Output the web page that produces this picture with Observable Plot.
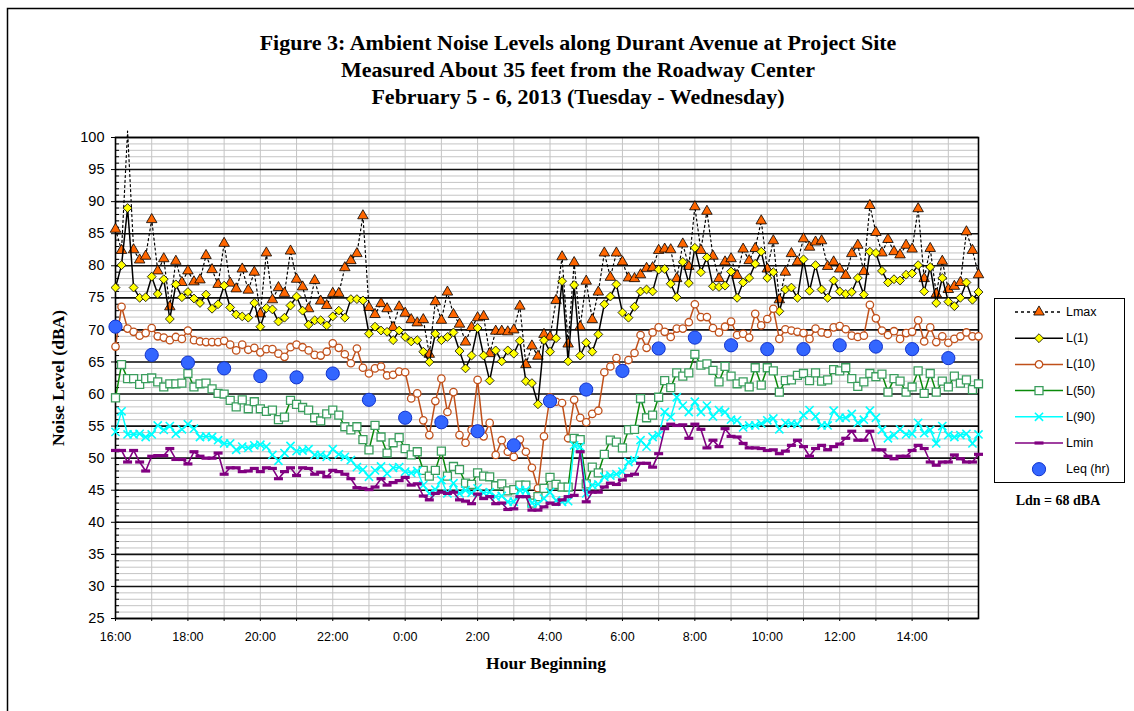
<!DOCTYPE html>
<html><head><meta charset="utf-8">
<script src="https://cdn.jsdelivr.net/npm/d3@7"></script>
<script src="https://cdn.jsdelivr.net/npm/@observablehq/plot@0.6"></script>
<style>
body{margin:0;background:#fff;}
#wrap{position:relative;width:1134px;height:711px;overflow:hidden;background:#fff;}
#wrap svg{position:absolute;left:0;top:0;}
</style>
</head><body>
<div id="wrap"></div>
<script>
// ---- data (10-minute intervals starting 16:00 Tue) ----
const titleLines = [
  "Figure 3: Ambient Noise Levels along Durant Avenue at Project Site",
  "Measured About 35 feet from the Roadway Center",
  "February 5 - 6, 2013 (Tuesday - Wednesday)"
];
const yTitle = "Noise Level (dBA)";
const xTitle = "Hour Beginning";
const ldnNote = "Ldn = 68 dBA";
const hourLabels = ["16:00","18:00","20:00","22:00","0:00","2:00","4:00","6:00","8:00","10:00","12:00","14:00"];
const seriesNames = ["Lmax","L(1)","L(10)","L(50)","L(90)","Lmin","Leq (hr)"];

const lmax = [85.7,82.4,101,82.5,80.9,81.5,87.2,79.2,81.1,73.6,80.7,77.4,79.2,77.5,77.8,81.6,79.4,77.1,83.5,77.3,76.4,79.5,76.2,79.0,72.5,82.0,74.7,76.6,75.7,82.3,77.9,76.7,73.3,77.7,74.5,73.8,
75.7,75.7,79.7,80.8,81.9,87.8,73.5,72.4,74.1,73.3,70.4,73.6,72.6,71.6,71.1,71.6,66.2,74.4,71.5,75.9,72.4,70.9,68.1,70.4,71.9,72.1,66.3,69.8,69.8,69.7,70.0,73.7,64.6,67.5,65.9,69.3,
68.9,74.6,81.4,67.8,80.5,70.5,77.6,71.6,75.9,82.0,78.2,82.0,80.6,78.1,78.0,78.6,79.6,79.7,82.4,82.6,82.5,78.0,83.4,79.9,89.2,82.4,88.5,81.5,78.0,80.6,81.1,78.5,82.6,80.8,82.7,87.0,
79.5,83.9,74.7,79.0,81.9,80.6,84.2,82.9,83.7,83.9,79.9,80.6,79.5,78.5,81.9,83.2,79.1,89.4,85.2,82.0,84.1,82.2,81.7,83.2,82.6,88.9,78.0,82.7,75.6,80.7,76.3,76.8,77.4,85.3,82.4,78.6];

const l1 = [76.6,80.1,89.0,76.6,75.0,75.1,78.3,75.6,77.9,71.7,77.1,75.1,75.9,74.9,74.2,75.5,73.3,74.0,76.9,73.5,72.4,72.1,71.9,74.2,70.5,73.4,73.2,71.3,71.9,73.8,75.2,73.0,70.8,71.5,71.5,70.7,
72.1,73.0,71.9,74.8,74.8,74.6,69.4,70.5,69.9,69.7,68.4,69.9,68.9,68.2,68.4,66.6,65.0,69.4,68.4,68.9,69.6,66.7,64.0,66.0,70.3,66.0,62.1,66.8,65.1,66.8,66.3,68.3,62.0,61.7,58.4,68.4,
66.6,68.7,77.6,65.1,77.0,66.0,68.0,66.6,69.3,74.0,75.2,77.1,72.7,71.9,73.6,76.0,76.3,76.0,79.4,79.5,77.2,75.1,80.6,77.3,82.8,79.0,81.3,76.8,76.7,76.9,79.1,75.0,77.4,78.1,80.3,82.2,
78.1,79.0,72.9,76.3,76.6,75.0,81.0,76.1,80.1,76.3,75.0,77.7,76.0,75.6,75.9,78.1,75.5,82.2,82.0,79.2,77.4,77.9,77.7,78.6,78.8,80.1,76.0,79.8,74.2,78.1,74.4,73.7,75.0,77.4,74.7,75.9];

const l10 = [67.4,73.6,70.2,69.7,69.1,69.5,70.3,69.0,68.8,68.4,68.9,68.6,69.9,68.4,68.2,68.1,68.1,68.1,68.3,67.7,66.8,67.7,66.9,67.2,66.5,67.0,67.0,66.3,65.8,67.3,67.7,67.3,66.8,66.1,66.0,66.6,
67.9,67.2,66.2,64.8,67.1,64.1,63.2,64.0,64.3,62.9,63.0,63.5,63.4,59.3,60.1,55.9,53.6,58.9,62.4,57.2,60.3,53.6,52.4,54.4,62.2,53.4,55.5,50.5,52.8,51.0,50.2,52.9,51.0,48.5,45.3,53.4,
59.5,58.8,58.6,53.1,59.1,56.3,55.6,56.9,57.4,63.4,64.3,65.6,64.0,65.3,66.4,69.2,67.2,69.6,70.4,69.7,68.9,70.2,70.2,71.2,74.0,72.0,72.0,70.3,69.6,70.5,71.3,69.2,69.4,68.8,72.5,70.7,
71.7,73.3,68.6,70.1,69.9,69.7,69.5,68.6,70.2,69.6,69.4,70.4,70.6,70.1,69.1,68.9,69.1,73.9,71.8,69.9,69.2,69.8,68.6,69.5,69.7,71.5,68.2,70.4,68.1,69.0,68.0,68.6,69.0,69.6,69.0,69.0];

const l50 = [59.4,64.6,62.4,62.4,61.5,62.4,62.5,61.9,61.1,61.6,61.6,61.7,63.2,61.1,61.6,61.7,60.8,60.1,60.0,59.0,58.0,59.1,57.7,58.8,57.7,57.3,57.5,56.0,56.4,59.0,58.4,57.9,57.5,56.3,55.8,56.9,
57.5,56.7,54.9,54.4,54.9,52.9,51.3,55.1,53.3,50.8,52.4,53.2,51.5,50.5,51.0,48.1,47.2,48.1,51.1,47.2,48.7,48.2,46.1,45.9,47.7,47.2,47.1,45.7,46.0,44.9,45.1,45.8,45.8,43.0,44.0,45.3,
47.0,45.9,45.5,45.5,53.1,52.9,46.0,48.6,47.7,50.6,52.8,52.5,51.6,54.4,54.5,59.3,56.3,56.7,59.5,62.1,61.0,63.3,62.8,63.3,66.2,64.5,64.7,63.7,61.9,64.3,62.8,61.6,61.9,61.1,64.1,61.4,
64.1,63.6,60.3,62.1,62.2,62.9,63.2,62.1,63.3,62.0,62.2,63.8,63.6,64.1,62.4,61.2,61.9,63.2,62.7,63.1,60.3,62.4,62.0,60.3,61.1,63.6,60.1,63.2,60.3,62.0,61.1,62.8,61.7,62.2,60.7,61.6];

const l90 = [54.1,57.3,53.7,53.7,53.8,53.3,53.7,55.1,54.4,55.0,53.8,54.5,55.3,54.6,53.3,53.4,53.3,52.8,52.3,52.3,51.3,51.8,51.6,52.0,52.1,51.8,50.5,49.6,50.8,51.9,51.1,51.2,51.4,50.5,50.5,50.2,
51.4,50.6,50.2,49.7,48.6,48.2,47.1,48.1,48.7,47.6,48.5,48.6,47.9,47.7,48.0,45.8,44.5,45.1,46.6,44.5,46.1,44.5,45.0,44.6,45.3,44.6,44.7,44.0,44.1,43.2,43.2,45.0,45.0,43.0,42.9,43.7,
44.7,43.4,43.2,43.3,52.0,51.8,44.5,45.8,45.9,47.1,47.3,47.5,47.9,49.4,49.7,52.8,51.8,53.3,53.6,57.2,56.4,59.5,58.2,57.2,58.8,57.2,58.2,56.5,57.5,57.2,56.0,55.9,54.8,55.1,55.1,55.4,
55.9,56.2,54.5,55.5,55.4,55.3,56.7,57.5,56.5,55.1,55.1,57.4,56.3,56.3,56.9,55.5,56.0,57.4,56.3,54.4,53.1,53.6,54.5,53.7,53.8,55.5,53.9,54.4,52.3,55.0,53.6,53.3,53.6,53.8,52.3,53.7];

const lmin = [51.2,51.2,49.4,51.2,49.4,48.0,50.3,50.4,50.4,51.5,49.8,49.8,49.1,51.0,50.3,50.0,50.0,50.8,47.5,48.5,48.5,47.9,48.0,48.4,47.9,48.5,48.4,46.8,47.9,48.5,47.3,48.5,48.4,47.5,47.8,47.1,
48.1,47.9,47.5,46.8,45.4,45.3,45.1,45.5,46.8,45.8,46.2,46.5,47.0,45.8,46.0,44.1,43.5,44.5,44.7,44.5,44.7,43.5,43.3,42.9,44.4,43.7,44.0,42.9,43.0,42.0,42.1,44.0,44.0,41.9,41.9,42.4,
43.0,42.8,43.5,44.0,44.2,51.0,43.2,44.7,44.7,45.5,46.1,45.9,46.6,47.3,47.5,49.2,49.2,48.6,50.7,54.6,55.3,55.1,55.2,53.1,55.3,54.5,51.6,52.8,51.8,54.6,53.4,53.3,52.3,51.6,51.6,51.5,
51.2,51.3,50.7,51.1,52.0,52.8,51.8,50.3,51.5,52.0,51.3,51.8,52.2,53.1,54.2,52.8,52.8,54.2,51.3,51.3,50.3,49.9,50.3,50.3,51.2,52.0,51.5,49.4,48.9,49.4,49.4,50.5,49.9,49.4,49.4,50.6];

// hourly Leq, 16:00 .. 15:00
const leq = [70.5,66.1,64.9,64.0,62.8,62.6,63.2,59.1,56.3,55.6,54.2,52.0,58.9,60.7,63.6,67.1,68.8,67.6,67.0,67.0,67.6,67.4,67.0,65.6];

// ---- tables built from the arrays (x = hours after 16:00) ----
const rows = lmax.map((v, i) => ({h: i / 6, lmax: v, l1: l1[i], l10: l10[i], l50: l50[i], l90: l90[i], lmin: lmin[i]}));
const leqRows = leq.map((v, i) => ({h: i, leq: v}));

// ---- styles ----
const C = {
  lmaxFill: "#ff6600", l1Fill: "#ffff00", l10: "#c0501a", l50Line: "#0a8a0a", l50Mark: "#3a9d5d",
  l90: "#00ffff", lmin: "#800080", leqFill: "#3366ff", leqStroke: "#1133cc"
};
const dash = {draw(ctx) { ctx.moveTo(-4.5, -1.6); ctx.lineTo(4.5, -1.6); ctx.lineTo(4.5, 1.6); ctx.lineTo(-4.5, 1.6); ctx.closePath(); }};
const R = {tri: 3.9, dia: 4.0, circ: 3.7, sq: 4.5, x: 3.8, leq: 6.6};

const chart = Plot.plot({
  width: 1134, height: 711,
  marginLeft: 115, marginRight: 156, marginTop: 137, marginBottom: 93,
  x: {domain: [0, 143 / 6], label: null},
  y: {domain: [25, 100], label: null},
  style: {fontFamily: "'Liberation Sans', Arial, sans-serif", color: "black", background: "transparent", overflow: "visible"},
  marks: [
    Plot.ruleY(d3.range(25, 101, 1), {stroke: "#c4c4c4", strokeWidth: 1}),
    Plot.ruleX(d3.range(1, 24), {stroke: "#c4c4c4", strokeWidth: 1}),
    Plot.ruleY(d3.range(25, 101, 5), {stroke: "#111", strokeWidth: 1.6}),
    Plot.frame({stroke: "#000", strokeWidth: 1.6}),
    Plot.axisY({ticks: d3.range(25, 101, 5), tickSize: 4, tickPadding: 7, fontSize: 14.5, label: null}),
    Plot.axisY({ticks: d3.range(25, 101, 1), tickSize: -4, tickFormat: () => "", label: null}),
    Plot.axisX({ticks: d3.range(0, 24, 1), tickSize: 3, tickFormat: () => "", label: null}),
    Plot.axisX({ticks: d3.range(0, 24, 2), tickSize: 0, tickPadding: 14, fontSize: 12.5, tickFormat: h => hourLabels[h / 2], label: null}),
    // Lmax
    Plot.line(rows, {x: "h", y: "lmax", stroke: "#000", strokeWidth: 1.2, strokeDasharray: "2,3"}),
    Plot.dot(rows.filter(d => d.lmax <= 100), {x: "h", y: "lmax", symbol: "triangle", r: R.tri, fill: C.lmaxFill, stroke: "#000", strokeWidth: 0.8}),
    // L(1)
    Plot.line(rows, {x: "h", y: "l1", stroke: "#000", strokeWidth: 1.5}),
    Plot.dot(rows, {x: "h", y: "l1", symbol: "diamond2", r: R.dia, fill: C.l1Fill, stroke: "#000", strokeWidth: 0.8}),
    // L(10)
    Plot.line(rows, {x: "h", y: "l10", stroke: C.l10, strokeWidth: 1.5}),
    Plot.dot(rows, {x: "h", y: "l10", r: R.circ, fill: "#fff", stroke: C.l10, strokeWidth: 1.3}),
    // L(50)
    Plot.line(rows, {x: "h", y: "l50", stroke: C.l50Line, strokeWidth: 1.5}),
    Plot.dot(rows, {x: "h", y: "l50", symbol: "square", r: R.sq, fill: "#fff", stroke: C.l50Mark, strokeWidth: 1.3}),
    // L(90)
    Plot.line(rows, {x: "h", y: "l90", stroke: C.l90, strokeWidth: 1.5}),
    Plot.dot(rows, {x: "h", y: "l90", symbol: "times", r: R.x, stroke: C.l90, strokeWidth: 1.6}),
    // Lmin
    Plot.line(rows, {x: "h", y: "lmin", stroke: C.lmin, strokeWidth: 1.6}),
    Plot.dot(rows, {x: "h", y: "lmin", symbol: dash, fill: C.lmin, stroke: "none"}),
    // Leq
    Plot.dot(leqRows, {x: "h", y: "leq", r: R.leq, fill: C.leqFill, stroke: C.leqStroke, strokeWidth: 1})
  ]
});
const wrap = document.getElementById("wrap");
wrap.appendChild(chart);

// ---- overlay: border, titles, legend ----
const ov = d3.select(wrap).append("svg").attr("width", 1134).attr("height", 711)
  .style("pointer-events", "none");
ov.append("rect").attr("x", 7.5).attr("y", 8.5).attr("width", 1300).attr("height", 900)
  .attr("fill", "none").attr("stroke", "#000").attr("stroke-width", 1.5);

const serif = "'Liberation Serif', 'Times New Roman', serif";
const sans = "'Liberation Sans', Arial, sans-serif";
ov.selectAll("text.t").data(titleLines).join("text").attr("class", "t")
  .attr("x", 578).attr("y", (d, i) => 42 + 27 * i)
  .attr("text-anchor", "middle").attr("dominant-baseline", "central")
  .style("font-family", serif).style("font-weight", "bold").style("font-size", "22px")
  .text(d => d);

ov.append("text").attr("transform", "translate(58,378) rotate(-90)")
  .attr("text-anchor", "middle").attr("dominant-baseline", "central")
  .style("font-family", serif).style("font-weight", "bold").style("font-size", "17.5px")
  .text(yTitle);
ov.append("text").attr("x", 546).attr("y", 663)
  .attr("text-anchor", "middle").attr("dominant-baseline", "central")
  .style("font-family", serif).style("font-weight", "bold").style("font-size", "17.5px")
  .text(xTitle);

// legend
const lg = ov.append("g");
lg.append("rect").attr("x", 994.5).attr("y", 298.5).attr("width", 130).attr("height", 184)
  .attr("fill", "#fff").attr("stroke", "#000").attr("stroke-width", 1);
const legendStyle = [
  {line: "#000", dash: "3,3", sym: d3.symbolTriangle, r: R.tri, fill: C.lmaxFill, stroke: "#000", sw: 0.8},
  {line: "#000", sym: d3.symbolDiamond2, r: R.dia, fill: C.l1Fill, stroke: "#000", sw: 0.8},
  {line: C.l10, sym: d3.symbolCircle, r: R.circ, fill: "#fff", stroke: C.l10, sw: 1.3},
  {line: C.l50Line, sym: d3.symbolSquare, r: R.sq, fill: "#fff", stroke: C.l50Mark, sw: 1.3},
  {line: C.l90, sym: d3.symbolTimes, r: R.x, fill: "none", stroke: C.l90, sw: 1.6},
  {line: C.lmin, sym: dash, r: 1, fill: C.lmin, stroke: "none", sw: 0},
  {line: null, sym: d3.symbolCircle, r: R.leq, fill: C.leqFill, stroke: C.leqStroke, sw: 1}
];
seriesNames.forEach((name, i) => {
  const y = 312 + 26.2 * i, s = legendStyle[i];
  if (s.line) lg.append("line").attr("x1", 1015).attr("x2", 1063).attr("y1", y).attr("y2", y)
    .attr("stroke", s.line).attr("stroke-width", 1.5).attr("stroke-dasharray", s.dash || null);
  lg.append("path").attr("transform", `translate(1039,${y})`)
    .attr("d", d3.symbol(s.sym, Math.PI * s.r * s.r)())
    .attr("fill", s.fill).attr("stroke", s.stroke).attr("stroke-width", s.sw);
  lg.append("text").attr("x", 1066).attr("y", y).attr("dominant-baseline", "central")
    .style("font-family", sans).style("font-size", "12.5px").text(name);
});
ov.append("text").attr("x", 1058).attr("y", 500).attr("text-anchor", "middle").attr("dominant-baseline", "central")
  .style("font-family", serif).style("font-weight", "bold").style("font-size", "14px").text(ldnNote);
</script>
</body></html>
